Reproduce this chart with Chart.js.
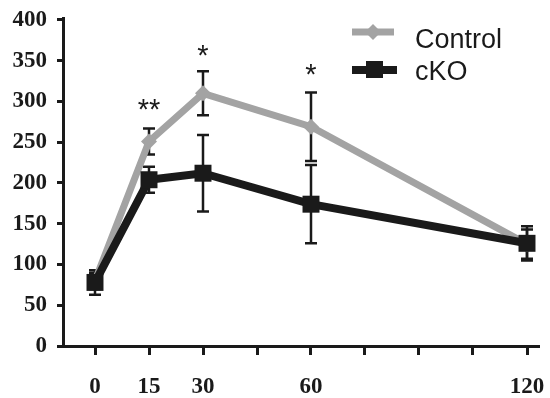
<!DOCTYPE html>
<html>
<head>
<meta charset="utf-8">
<script src="https://cdn.jsdelivr.net/npm/chart.js@4.4.1/dist/chart.umd.min.js"></script>
<style>
  html, body { margin: 0; padding: 0; background: #fff; }
  canvas { display: block; }
</style>
</head>
<body>
<canvas id="chart" width="550" height="398"></canvas>
<script>
// time points (min)
const times = [0, 15, 30, 60, 120];
const controlVals = [80, 251, 310, 269, 125];
const controlErr = [10, 16, 27, 42, 18];
const ckoVals = [78, 204, 212, 174, 126];
const ckoErr = [15, 16, 47, 48, 21];

// axis ticks
const xTicks = [0, 15, 30, 45, 60, 75, 90, 105, 120];
const xTickLabels = ["0", "15", "30", "", "60", "", "", "", "120"];
const yTicks = [0, 50, 100, 150, 200, 250, 300, 350, 400];

// significance marks
const sigX = [15, 30, 60];
const sigY = [289, 356, 333];
const sigText = ["**", "*", "*"];

const GRAY = "#a3a3a3";
const BLACK = "#1a1a1a";

const toXY = (vals) => vals.map((v, i) => ({ x: times[i], y: v }));

const errorBars = {
  id: "errorBars",
  beforeDatasetsDraw(chart) {
    const { ctx, scales } = chart;
    const sets = [[controlVals, controlErr], [ckoVals, ckoErr]];
    ctx.save();
    ctx.strokeStyle = BLACK;
    ctx.lineWidth = 2.5;
    sets.forEach(([vals, errs]) => {
      vals.forEach((v, i) => {
        const px = scales.x.getPixelForValue(times[i]);
        const top = scales.y.getPixelForValue(v + errs[i]);
        const bot = scales.y.getPixelForValue(v - errs[i]);
        ctx.beginPath();
        ctx.moveTo(px, top); ctx.lineTo(px, bot);
        ctx.moveTo(px - 6, top); ctx.lineTo(px + 6, top);
        ctx.moveTo(px - 6, bot); ctx.lineTo(px + 6, bot);
        ctx.stroke();
      });
    });
    ctx.restore();
  },
  afterDatasetsDraw(chart) {
    const { ctx, scales } = chart;
    ctx.save();
    ctx.fillStyle = BLACK;
    ctx.font = "29px 'Liberation Sans', Arial, sans-serif";
    ctx.textAlign = "center";
    ctx.textBaseline = "alphabetic";
    sigText.forEach((t, i) => {
      const px = scales.x.getPixelForValue(sigX[i]);
      const py = scales.y.getPixelForValue(sigY[i]);
      ctx.fillText(t, px, py + 9);
    });
    ctx.restore();
  }
};

const legendBox = {
  id: "legendBox",
  afterDraw(chart) {
    const ctx = chart.ctx;
    ctx.save();
    // Control
    ctx.strokeStyle = GRAY;
    ctx.lineWidth = 7;
    ctx.beginPath(); ctx.moveTo(352, 32); ctx.lineTo(394, 32); ctx.stroke();
    ctx.fillStyle = GRAY;
    ctx.beginPath();
    ctx.moveTo(373 - 8, 32); ctx.lineTo(373, 24); ctx.lineTo(373 + 8, 32); ctx.lineTo(373, 40);
    ctx.closePath(); ctx.fill();
    // cKO
    ctx.strokeStyle = BLACK;
    ctx.lineWidth = 8;
    ctx.beginPath(); ctx.moveTo(352, 70); ctx.lineTo(397, 70); ctx.stroke();
    ctx.fillStyle = BLACK;
    ctx.fillRect(366, 61, 17, 17);
    ctx.font = "27px 'Liberation Sans', Arial, sans-serif";
    ctx.textBaseline = "alphabetic";
    ctx.textAlign = "left";
    ctx.fillText("Control", 415, 48);
    ctx.fillText("cKO", 415, 80);
    ctx.restore();
  }
};

const tickFont = { family: "'Liberation Serif', 'Times New Roman', serif", size: 23, weight: "bold" };

const chart = new Chart(document.getElementById("chart"), {
  type: "line",
  data: {
    datasets: [
      {
        label: "Control",
        data: toXY(controlVals),
        borderColor: GRAY,
        backgroundColor: GRAY,
        borderWidth: 7,
        pointStyle: "rectRot",
        pointRadius: 8,
        pointBorderWidth: 0,
        tension: 0,
        order: 1
      },
      {
        label: "cKO",
        data: toXY(ckoVals),
        borderColor: BLACK,
        backgroundColor: BLACK,
        borderWidth: 8,
        pointStyle: "rect",
        pointRadius: 12,
        pointBorderWidth: 0,
        tension: 0,
        order: 0
      }
    ]
  },
  options: {
    responsive: false,
    animation: false,
    devicePixelRatio: 1,
    layout: { padding: { top: 18, left: 0, right: 0, bottom: 0 } },
    plugins: {
      legend: { display: false },
      tooltip: { enabled: false },
      title: { display: false }
    },
    scales: {
      x: {
        type: "linear",
        min: -8.9,
        max: 126.4,
        afterBuildTicks: (scale) => { scale.ticks = xTicks.map(v => ({ value: v })); },
        afterFit: (scale) => {
          scale.height = 52;
          scale.paddingLeft = 0;
          scale.paddingRight = 0;
        },
        grid: {
          drawOnChartArea: false,
          drawTicks: true,
          tickLength: 9,
          color: BLACK,
          lineWidth: 3
        },
        border: { display: true, color: BLACK, width: 3 },
        ticks: {
          autoSkip: false,
          maxRotation: 0,
          padding: 18,
          color: BLACK,
          font: tickFont,
          callback: (v) => xTickLabels[xTicks.indexOf(v)]
        }
      },
      y: {
        min: 0,
        max: 402.5,
        afterBuildTicks: (scale) => { scale.ticks = yTicks.map(v => ({ value: v })); },
        afterFit: (scale) => {
          scale.width = 63;
          scale.paddingTop = 0;
          scale.paddingBottom = 0;
        },
        grid: {
          drawOnChartArea: false,
          drawTicks: true,
          tickLength: 6,
          color: BLACK,
          lineWidth: 3
        },
        border: { display: true, color: BLACK, width: 3 },
        ticks: {
          padding: 10,
          color: BLACK,
          font: tickFont
        }
      }
    }
  },
  plugins: [errorBars, legendBox]
});

// line the axes up with the reference: 0 min at x=95, 120 min at x=527, 0 at y=346, 400 at y=20
const area = chart.chartArea;
const kx = (527 - 95) / 120;
const ky = (346 - 20) / 400;
chart.options.scales.x.min = -(95 - area.left) / kx;
chart.options.scales.x.max = 120 + (area.right - 527) / kx;
chart.options.scales.y.min = -(area.bottom - 346) / ky;
chart.options.scales.y.max = 400 + (20 - area.top) / ky;
chart.update();
</script>
</body>
</html>
